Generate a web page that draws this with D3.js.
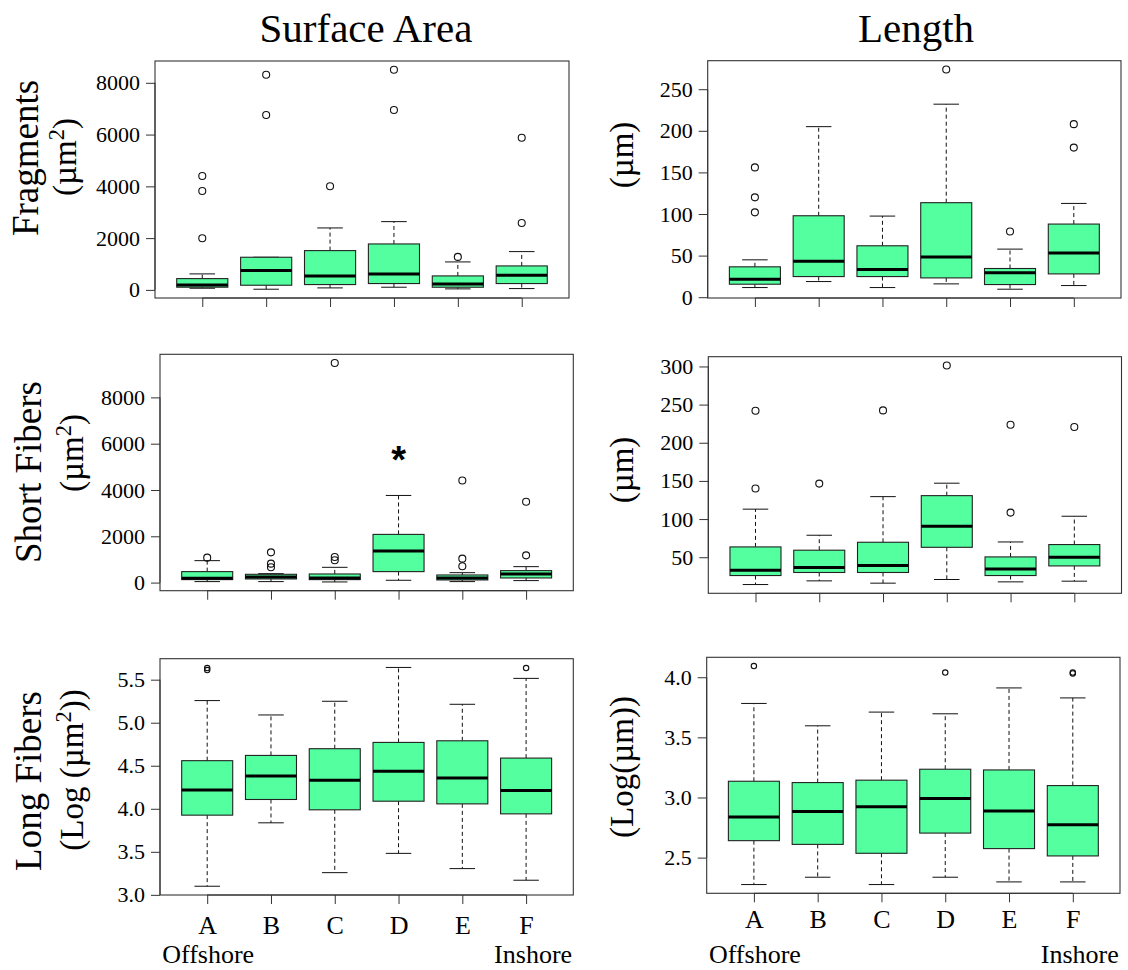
<!DOCTYPE html>
<html>
<head>
<meta charset="utf-8">
<script src="https://cdn.jsdelivr.net/npm/d3@7"></script>
<style>
  html, body { margin: 0; padding: 0; background: #fff; }
  svg { display: block; }
  svg text { font-family: "Liberation Serif", "Times New Roman", serif; }
</style>
</head>
<body>
<svg id="chart" width="1128" height="970"></svg>
<script>
// Sampling sites, offshore (A) to inshore (F)
const sites = ["A", "B", "C", "D", "E", "F"];

// Box statistics per site: [lower whisker, Q1, median, Q3, upper whisker]
const fragAreaStats = [
  [64, 104, 193, 436, 618],
  [26, 180, 746, 1261, 1261],
  [77, 206, 540, 1518, 2393],
  [103, 245, 618, 1775, 2637],
  [39, 103, 232, 540, 1080],
  [51, 245, 566, 926, 1479]
];
const fragAreaOut = [[4400, 3821, 1995], [8310, 6754], [4001], [8503, 6947], [1274], [5880, 2585]];

const fragLenStats = [
  [11.6, 15.6, 21.6, 36.5, 44.9],
  [18.8, 24.8, 43.3, 97.9, 205],
  [11.6, 24.8, 33.3, 61.8, 97.5],
  [16, 23.2, 48.2, 113.6, 232],
  [9.6, 15.2, 29.3, 34.5, 57.8],
  [14, 28, 53, 87.9, 112.7]
];
const fragLenOut = [[156, 120, 102], [], [], [273.7], [79], [208, 179.8]];

const shortAreaStats = [
  [43, 129, 185, 474, 948],
  [43, 157, 243, 358, 386],
  [28, 129, 200, 372, 660],
  [100, 474, 1364, 2082, 3764],
  [43, 114, 200, 329, 429],
  [86, 200, 372, 517, 689]
];
const shortAreaOut = [[1077], [1306, 818, 660], [9483, 1105, 962], [], [4409, 1034, 703], [3491, 1177]];

const shortLenStats = [
  [14.2, 26, 33, 63.5, 113],
  [19, 30, 36.5, 59.2, 78.8],
  [16, 30, 39, 69.6, 129.4],
  [20.8, 63, 90.6, 130.7, 147],
  [17.7, 26, 34.7, 50.4, 70],
  [18.6, 38.6, 50, 66.6, 103.7]
];
const shortLenOut = [[242, 140], [146.5], [242.4], [301.3], [223.7, 108.5], [220.6]];

const longAreaStats = [
  [3.10, 3.926, 4.219, 4.559, 5.257],
  [3.837, 4.108, 4.381, 4.62, 5.09],
  [3.258, 3.988, 4.331, 4.698, 5.249],
  [3.482, 4.088, 4.435, 4.771, 5.642],
  [3.305, 4.057, 4.358, 4.79, 5.214],
  [3.17, 3.941, 4.211, 4.589, 5.515]
];
const longAreaOut = [[5.635, 5.612], [], [], [], [], [5.635]];

const longLenStats = [
  [2.276, 2.641, 2.837, 3.135, 3.782],
  [2.337, 2.61, 2.884, 3.124, 3.596],
  [2.276, 2.536, 2.923, 3.144, 3.71],
  [2.337, 2.704, 2.991, 3.235, 3.696],
  [2.298, 2.575, 2.887, 3.229, 3.911],
  [2.298, 2.514, 2.773, 3.099, 3.828]
];
const longLenOut = [[4.093], [], [], [4.039], [], [4.039, 4.031]];

// Axis tick values
const areaTicks = [0, 2000, 4000, 6000, 8000];
const fragLenTicks = [0, 50, 100, 150, 200, 250];
const shortLenTicks = [50, 100, 150, 200, 250, 300];
const longAreaTicks = [3.0, 3.5, 4.0, 4.5, 5.0, 5.5];
const longLenTicks = [2.5, 3.0, 3.5, 4.0];

// Text
const columnTitles = ["Surface Area", "Length"];
const rowTitles = ["Fragments", "Short Fibers", "Long Fibers"];
const shoreLabels = ["Offshore", "Inshore"];

const SERIF = "'Liberation Serif', 'Times New Roman', serif";
const svg = d3.select("#chart");
const FILL = "#54FF9F";   // seagreen1
const INK = "#111";

// panel frames (plot regions)
const panels = [
  { stats: fragAreaStats, out: fragAreaOut, ticks: areaTicks, fmt: d3.format("d"), frame: { x0: 155, x1: 569, y0: 61, y1: 298 }, r: 3.5, star: false, bottom: false },
  { stats: fragLenStats, out: fragLenOut, ticks: fragLenTicks, fmt: d3.format("d"), frame: { x0: 707.7, x1: 1121, y0: 60.7, y1: 298 }, r: 3.5, star: false, bottom: false },
  { stats: shortAreaStats, out: shortAreaOut, ticks: areaTicks, fmt: d3.format("d"), frame: { x0: 160, x1: 573.3, y0: 354.3, y1: 590.7 }, r: 3.5, star: true, bottom: false },
  { stats: shortLenStats, out: shortLenOut, ticks: shortLenTicks, fmt: d3.format("d"), frame: { x0: 708.3, x1: 1121.5, y0: 356.7, y1: 593.3 }, r: 3.5, star: false, bottom: false },
  { stats: longAreaStats, out: longAreaOut, ticks: longAreaTicks, fmt: d3.format(".1f"), frame: { x0: 160, x1: 573.3, y0: 658.7, y1: 895 }, r: 2.7, star: false, bottom: true, lettersY: 934, shoreY: 963 },
  { stats: longLenStats, out: longLenOut, ticks: longLenTicks, fmt: d3.format(".1f"), frame: { x0: 706.7, x1: 1120, y0: 657.3, y1: 893.3 }, r: 2.7, star: false, bottom: true, lettersY: 928, shoreY: 963 }
];

panels.forEach(p => {
  const f = p.frame;
  const g = svg.append("g");

  // R-style axis extents: groups at 1..n, limits padded by 4%
  const x = d3.scaleLinear().domain([0.5 - 0.24, sites.length + 0.5 + 0.24]).range([f.x0, f.x1]);
  const all = p.stats.flat().concat(p.out.flat());
  const lo = d3.min(all), hi = d3.max(all), pad = (hi - lo) * 0.04;
  const y = d3.scaleLinear().domain([lo - pad, hi + pad]).range([f.y1, f.y0]);

  const halfBox = 0.4, halfCap = 0.2;

  const boxes = g.selectAll("g.box").data(p.stats).join("g").attr("class", "box");
  // whiskers (dashed)
  boxes.append("line")
    .attr("x1", (d, i) => x(i + 1)).attr("x2", (d, i) => x(i + 1))
    .attr("y1", d => y(d[3])).attr("y2", d => y(d[4]))
    .attr("stroke", INK).attr("stroke-width", 1).attr("stroke-dasharray", "4,3");
  boxes.append("line")
    .attr("x1", (d, i) => x(i + 1)).attr("x2", (d, i) => x(i + 1))
    .attr("y1", d => y(d[1])).attr("y2", d => y(d[0]))
    .attr("stroke", INK).attr("stroke-width", 1).attr("stroke-dasharray", "4,3");
  // staples
  [0, 4].forEach(k => {
    boxes.append("line")
      .attr("x1", (d, i) => x(i + 1 - halfCap)).attr("x2", (d, i) => x(i + 1 + halfCap))
      .attr("y1", d => y(d[k])).attr("y2", d => y(d[k]))
      .attr("stroke", INK).attr("stroke-width", 1);
  });
  // boxes
  boxes.append("rect")
    .attr("x", (d, i) => x(i + 1 - halfBox))
    .attr("width", (d, i) => x(i + 1 + halfBox) - x(i + 1 - halfBox))
    .attr("y", d => y(d[3]))
    .attr("height", d => y(d[1]) - y(d[3]))
    .attr("fill", FILL).attr("stroke", "#222").attr("stroke-width", 1.1);
  // medians
  boxes.append("line")
    .attr("x1", (d, i) => x(i + 1 - halfBox)).attr("x2", (d, i) => x(i + 1 + halfBox))
    .attr("y1", d => y(d[2])).attr("y2", d => y(d[2]))
    .attr("stroke", "#000").attr("stroke-width", 3);

  // outliers
  const pts = p.out.flatMap((vals, i) => vals.map(v => ({ i, v })));
  g.selectAll("circle.out").data(pts).join("circle").attr("class", "out")
    .attr("cx", d => x(d.i + 1)).attr("cy", d => y(d.v)).attr("r", p.r)
    .attr("fill", "none").attr("stroke", INK).attr("stroke-width", 1.1);

  // significance marker
  if (p.star) {
    const d = p.stats[3];
    g.append("text").attr("x", x(4)).attr("y", y(d[4]) - 22)
      .attr("text-anchor", "middle").attr("font-size", 38).attr("font-weight", "bold")
      .style("font-family", "'Liberation Sans', Arial, sans-serif")
      .attr("fill", "#000").text("*");
  }

  // frame
  g.append("rect").attr("x", f.x0).attr("y", f.y0)
    .attr("width", f.x1 - f.x0).attr("height", f.y1 - f.y0)
    .attr("fill", "none").attr("stroke", "#333").attr("stroke-width", 1.1);

  // y axis
  const ya = d3.axisLeft(y).tickValues(p.ticks).tickFormat(p.fmt).tickSize(9).tickPadding(6);
  const yg = g.append("g").attr("transform", `translate(${f.x0},0)`).call(ya);
  yg.attr("font-family", null).attr("font-size", null);
  yg.select(".domain").attr("stroke", "#333").attr("d", `M0,${y(p.ticks[0])}V${y(p.ticks[p.ticks.length - 1])}`);
  yg.selectAll(".tick line").attr("stroke", "#333");
  yg.selectAll(".tick text").style("font-family", SERIF).style("font-size", "22px").attr("fill", "#000");

  // x axis
  const xa = d3.axisBottom(x).tickValues(d3.range(1, sites.length + 1)).tickSize(9)
    .tickFormat(p.bottom ? (d => sites[d - 1]) : (() => ""));
  const xg = g.append("g").attr("transform", `translate(0,${f.y1})`).call(xa);
  xg.attr("font-family", null).attr("font-size", null);
  xg.select(".domain").attr("stroke", "#333").attr("d", `M${x(1)},0H${x(sites.length)}`);
  xg.selectAll(".tick line").attr("stroke", "#333");
  if (p.bottom) {
    xg.selectAll(".tick text").style("font-family", SERIF).style("font-size", "26px")
      .attr("fill", "#000").attr("dy", null).attr("y", p.lettersY - f.y1);
    g.append("text").attr("x", x(1) + 1).attr("y", p.shoreY).attr("text-anchor", "middle")
      .style("font-size", "26px").text(shoreLabels[0]);
    g.append("text").attr("x", x(sites.length) + 7).attr("y", p.shoreY).attr("text-anchor", "middle")
      .style("font-size", "26px").text(shoreLabels[1]);
  }
});

// column titles
svg.append("text").attr("x", 366).attr("y", 42).attr("text-anchor", "middle").style("font-size", "41px").text(columnTitles[0]);
svg.append("text").attr("x", 916).attr("y", 42).attr("text-anchor", "middle").style("font-size", "41px").text(columnTitles[1]);

// rotated row labels
function vlabel(x, y, size, parts) {
  const t = svg.append("text").attr("transform", `translate(${x},${y}) rotate(-90)`)
    .attr("text-anchor", "middle").style("font-size", size + "px");
  parts.forEach(pt => {
    const s = t.append("tspan").text(pt.t);
    if (pt.sup) s.style("font-size", (size * 0.68) + "px").attr("baseline-shift", "super");
  });
}
vlabel(38, 158, 37, [{ t: rowTitles[0] }]);
vlabel(76, 157, 33, [{ t: "(µm" }, { t: "2", sup: true }, { t: ")" }]);
vlabel(41, 472, 37, [{ t: rowTitles[1] }]);
vlabel(83, 453, 33, [{ t: "(µm" }, { t: "2", sup: true }, { t: ")" }]);
vlabel(41, 781, 37, [{ t: rowTitles[2] }]);
vlabel(83, 770, 33, [{ t: "(Log (µm" }, { t: "2", sup: true }, { t: "))" }]);

vlabel(633, 155, 33, [{ t: "(µm)" }]);
vlabel(633, 470, 33, [{ t: "(µm)" }]);
vlabel(633, 767, 33, [{ t: "(Log(µm))" }]);
</script>
</body>
</html>
